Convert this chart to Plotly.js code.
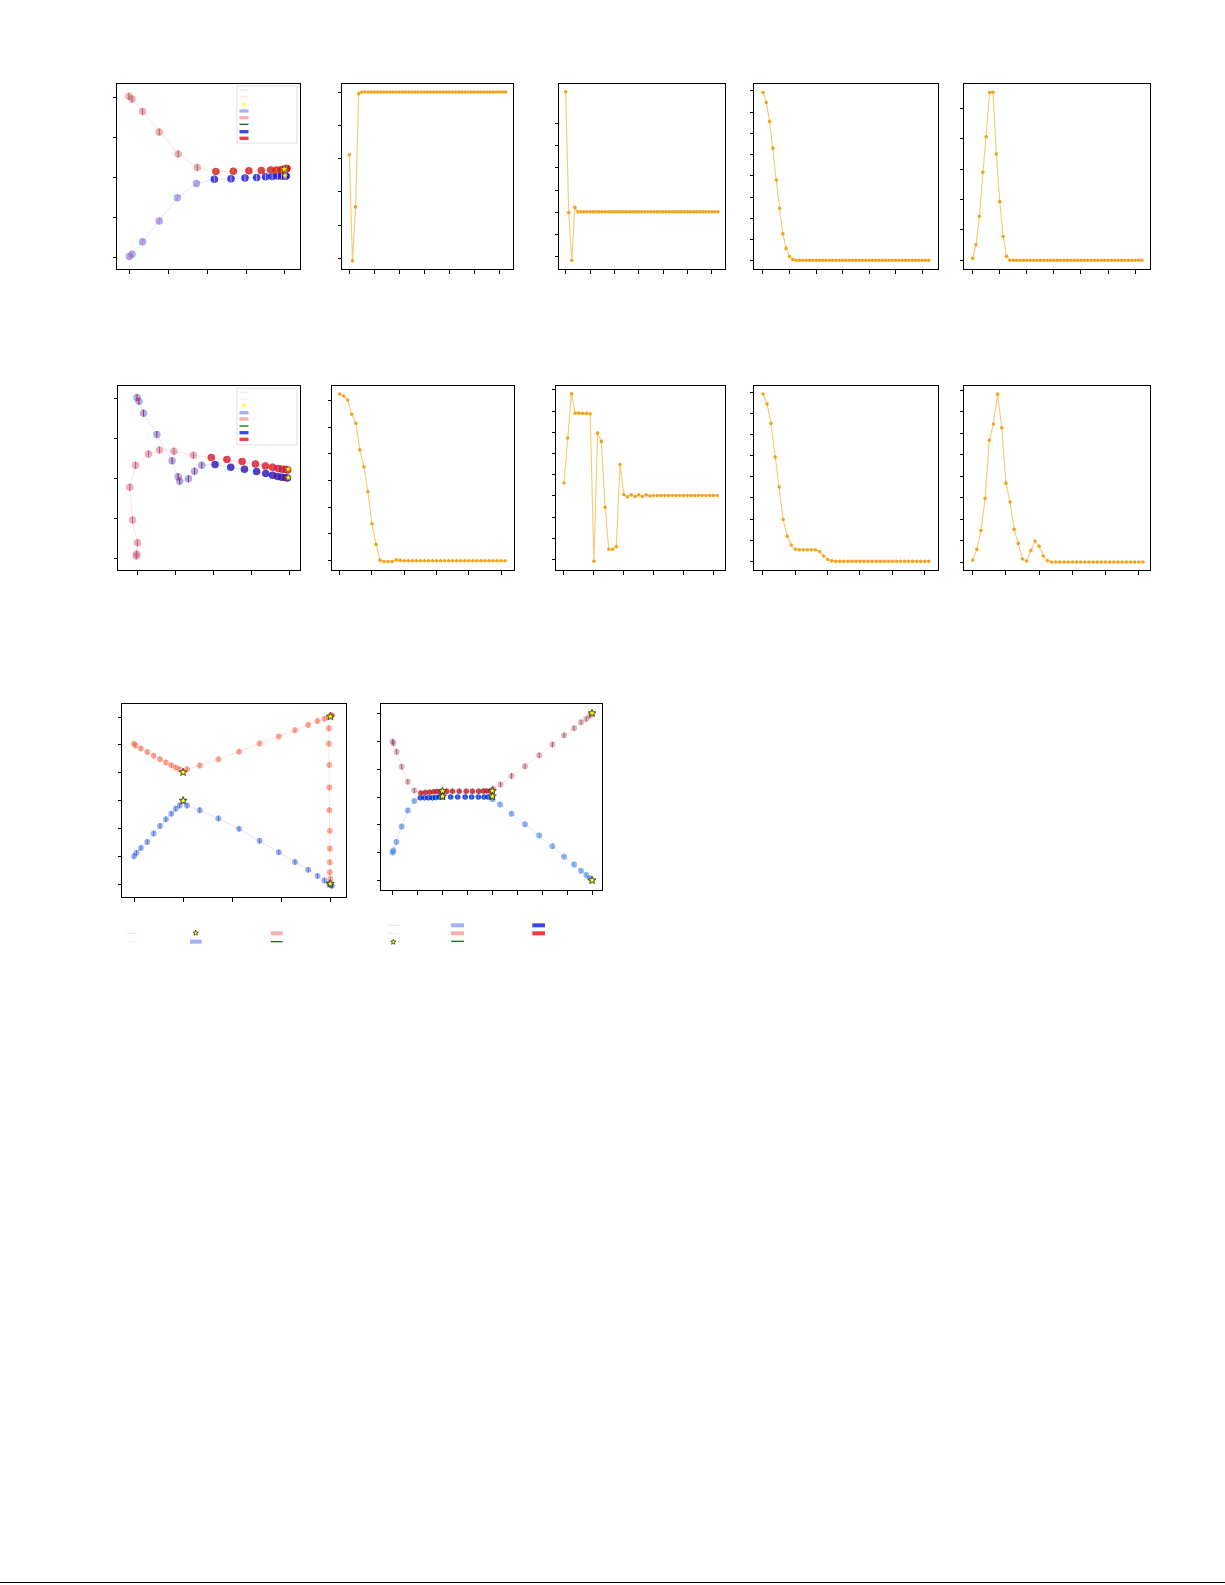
<!DOCTYPE html>
<html><head><meta charset="utf-8">
<script src="https://cdn.plot.ly/plotly-3.0.1.min.js"></script>
<style>body{margin:0;background:#fff}#chart{width:1225px;height:1585px}</style>
</head><body><div id="chart"></div>
<script>
// ---------- trajectory panel A (row 1, col 1) ----------
const tA_blueLightX = [-0.01,0.06,0.33,0.76,1.23,1.72];
const tA_blueLightY = [0.02,0.08,0.39,0.91,1.49,1.84];
const tA_blueDarkX  = [2.18,2.61,2.97,3.27,3.5,3.67,3.81,3.91,3.98,4.02,4.03];
const tA_blueDarkY  = [1.95,1.96,1.98,1.99,2.01,2.02,2.03,2.03,2.03,2.03,2.03];
const tA_redLightX  = [-0.02,0.06,0.33,0.76,1.25,1.74];
const tA_redLightY  = [4.02,3.95,3.64,3.13,2.58,2.24];
const tA_redDarkX   = [2.22,2.67,3.07,3.39,3.63,3.78,3.91,3.98,4.03,4.04,4.05];
const tA_redDarkY   = [2.14,2.15,2.16,2.17,2.18,2.18,2.19,2.2,2.21,2.22,2.22];
const tA_starX = [4.0,3.98];
const tA_starY = [2.04,2.2];

// ---------- trajectory panel B (row 2, col 1) ----------
const tB_blueLightX = [0,0.05,0.17,0.52,0.92,1.08,1.12,1.35,1.51,1.7];
const tB_blueLightY = [4.02,3.93,3.63,3.1,2.44,2.04,1.93,1.99,2.18,2.33];
const tB_blueDarkX  = [2.05,2.46,2.82,3.14,3.38,3.56,3.69,3.8,3.89,3.95];
const tB_blueDarkY  = [2.35,2.28,2.23,2.17,2.12,2.08,2.05,2.03,2.02,2.01];
const tB_redLightX  = [-0.02,-0.01,0.01,-0.12,-0.19,-0.04,0.3,0.59,0.97,1.48];
const tB_redLightY  = [0.06,0.11,0.39,0.96,1.78,2.33,2.61,2.71,2.68,2.58];
const tB_redDarkX   = [1.95,2.36,2.76,3.11,3.37,3.56,3.71,3.81,3.89,3.96];
const tB_redDarkY   = [2.52,2.47,2.42,2.36,2.31,2.28,2.25,2.23,2.23,2.21];
const tB_starX = [3.97,3.97];
const tB_starY = [2.23,2.02];

// ---------- trajectory panel C (row 3, col 1) ----------
const tC_blueX = [0,0.05,0.14,0.27,0.4,0.53,0.65,0.76,0.85,0.93,1.0,1.08,1.34,1.72,2.14,2.56,2.95,3.28,3.55,3.74,3.88,3.97,4.0,4.02,4.03];
const tC_blueY = [1.01,1.13,1.3,1.52,1.82,2.09,2.33,2.53,2.71,2.83,3.0,2.83,2.66,2.36,1.99,1.56,1.15,0.8,0.52,0.3,0.14,0.02,-0.01,-0.03,-0.05];
const tC_redX  = [0,0.03,0.14,0.27,0.4,0.53,0.65,0.76,0.85,0.93,1.0,1.08,1.34,1.72,2.14,2.56,2.95,3.28,3.55,3.74,3.88,3.97,4.01,4.02,4.03,3.97,3.97,3.98,3.98,3.98,3.99,3.99,3.99,3.99,4.0,4.0];
const tC_redY  = [5.04,4.98,4.87,4.75,4.61,4.49,4.37,4.27,4.19,4.13,4.02,4.13,4.26,4.49,4.76,5.05,5.3,5.53,5.72,5.86,5.94,6.0,6.05,6.06,6.06,5.6,5.04,4.28,3.47,2.66,1.92,1.28,0.79,0.43,0.19,0.05];
const tC_starX = [1.0,1.0,4.0,4.0];
const tC_starY = [4.02,3.0,6.02,0.02];

// ---------- trajectory panel D (row 3, col 2) ----------
const tD_blueLightX = [0,0.03,0.15,0.36,0.61,0.87];
const tD_blueLightY = [1.0,1.07,1.38,1.94,2.51,2.86];
const tD_blueDarkX  = [1.11,1.28,1.45,1.6,1.73,1.88,2.0,2.33,2.61,2.91,3.17,3.44,3.67,3.84,4.0];
const tD_blueDarkY  = [2.97,2.97,2.97,2.97,2.98,3.0,3.0,3.0,3.0,3.0,3.0,3.0,3.0,3.0,3.0];
const tD_blueLateX  = [4.0,4.31,4.77,5.31,5.88,6.41,6.88,7.28,7.56,7.77,7.91,8.0];
const tD_blueLateY  = [2.92,2.73,2.4,2.02,1.61,1.23,0.85,0.57,0.34,0.19,0.07,0.0];
const tD_redLightX  = [0,0.03,0.16,0.36,0.61,0.87];
const tD_redLightY  = [5.0,4.94,4.63,4.09,3.55,3.23];
const tD_redDarkX   = [1.13,1.31,1.48,1.64,1.77,1.91,2.0,2.17,2.4,2.67,2.95,3.2,3.45,3.64,3.77,3.91,4.0];
const tD_redDarkY   = [3.14,3.16,3.17,3.19,3.2,3.2,3.21,3.21,3.21,3.21,3.21,3.21,3.21,3.22,3.22,3.22,3.22];
const tD_redLateX   = [4.04,4.33,4.77,5.31,5.88,6.41,6.88,7.28,7.56,7.77,7.91,8.0];
const tD_redLateY   = [3.29,3.45,3.76,4.11,4.5,4.89,5.22,5.48,5.69,5.81,5.93,6.01];
const tD_starX = [2,2,4,4,8,8];
const tD_starY = [3.21,3.02,3.22,3.02,6.02,0.0];

// ---------- orange series (row 1: 51 steps, row 2: 42 steps) ----------
const s1 = [3.12,-0.07,1.55,4.96,5.01,5.01,5.01,5.01,5.01,5.01,5.01,5.01,5.01,5.01,5.01,5.01,5.01,5.01,5.01,5.01,5.01,5.01,5.01,5.01,5.01,5.01,5.01,5.01,5.01,5.01,5.01,5.01,5.01,5.01,5.01,5.01,5.01,5.01,5.01,5.01,5.01,5.01,5.01,5.01,5.01,5.01,5.01,5.01,5.01,5.01,5.01];
const s2 = [7.40,1.99,-0.16,2.22,2.02,2.02,2.02,2.02,2.02,2.02,2.02,2.02,2.02,2.02,2.02,2.02,2.02,2.02,2.02,2.02,2.02,2.02,2.02,2.02,2.02,2.02,2.02,2.02,2.02,2.02,2.02,2.02,2.02,2.02,2.02,2.02,2.02,2.02,2.02,2.02,2.02,2.02,2.02,2.02,2.02,2.02,2.02,2.02,2.02,2.02,2.02];
const s3 = [7.92,7.45,6.56,5.3,3.8,2.47,1.27,0.58,0.2,0.06,0.02,0.02,0.02,0.02,0.02,0.02,0.02,0.02,0.02,0.02,0.02,0.02,0.02,0.02,0.02,0.02,0.02,0.02,0.02,0.02,0.02,0.02,0.02,0.02,0.02,0.02,0.02,0.02,0.02,0.02,0.02,0.02,0.02,0.02,0.02,0.02,0.02,0.02,0.02,0.02,0.02];
const s4 = [0.06,0.51,1.45,2.9,4.07,5.53,5.54,3.5,1.93,0.78,0.13,0,0,0,0,0,0,0,0,0,0,0,0,0,0,0,0,0,0,0,0,0,0,0,0,0,0,0,0,0,0,0,0,0,0,0,0,0,0,0,0];
const s5 = [6.25,6.17,6.02,5.49,5.15,4.15,3.52,2.58,1.38,0.6,0.01,-0.04,-0.04,-0.04,0.02,0.0,-0.01,-0.01,-0.01,-0.01,-0.01,-0.01,-0.01,-0.01,-0.01,-0.01,-0.01,-0.01,-0.01,-0.01,-0.01,-0.01,-0.01,-0.01,-0.01,-0.01,-0.01,-0.01,-0.01,-0.01,-0.01,-0.01];
const s6 = [3.61,5.73,7.81,6.9,6.9,6.89,6.89,6.87,-0.08,5.96,5.57,2.47,0.49,0.49,0.61,4.48,3.07,2.96,3.05,2.97,3.05,2.97,3.05,3.0,3.02,3.02,3.02,3.02,3.02,3.02,3.02,3.02,3.02,3.02,3.02,3.02,3.02,3.02,3.02,3.02,3.02,3.02];
const s7 = [7.92,7.45,6.53,4.94,3.52,1.98,1.19,0.77,0.57,0.55,0.55,0.55,0.55,0.55,0.46,0.25,0.09,0.02,0,0,0,0,0,0,0,0,0,0,0,0,0,0,0,0,0,0,0,0,0,0,0,0];
const s8 = [0.09,0.59,1.47,2.96,5.67,6.42,7.81,6.25,3.67,2.79,1.52,0.87,0.14,0.05,0.54,0.98,0.73,0.28,0.06,0,0,0,0,0,0,0,0,0,0,0,0,0,0,0,0,0,0,0,0,0,0,0];

// tick positions
const ticks0to4 = [0,1,2,3,4];
const ticks0to5 = [0,1,2,3,4,5];
const ticks0to6 = [0,1,2,3,4,5,6];
const ticks0to8 = [0,1,2,3,4,5,6,7,8];
const stepTicks51 = [0,8,16,24,32,40,48];
const stepTicks42 = [0,8,16,24,32,40];

// ---------- layout helpers ----------
const W = 1225, H = 1585;
const PX = v => v / W;
const PY = v => 1 - v / H;

const panels = [
  {box:[117,84,300,269],  xr:[-0.327,4.387], yr:[-0.29,4.325], xt:ticks0to4, yt:ticks0to4},
  {box:[342,84,513,269],  xr:[-2.35,52.4],   yr:[-0.32,5.25],  xt:stepTicks51, yt:ticks0to5},
  {box:[559,84,725,269],  xr:[-2.19,52.3],   yr:[-0.54,7.75],  xt:stepTicks51, yt:ticks0to6},
  {box:[754,84,938,269],  xr:[-2.71,52.8],   yr:[-0.39,8.32],  xt:stepTicks51, yt:ticks0to8},
  {box:[964,84,1150,269], xr:[-2.56,52.4],   yr:[-0.29,5.81],  xt:stepTicks51, yt:ticks0to5},
  {box:[118,386,300,570], xr:[-0.5,4.28],    yr:[-0.29,4.31],  xt:ticks0to4, yt:ticks0to4},
  {box:[332,386,514,570], xr:[-1.9,43.2],    yr:[-0.36,6.55],  xt:stepTicks42, yt:ticks0to6},
  {box:[556,386,725,570], xr:[-2.14,43.1],   yr:[-0.49,8.18],  xt:stepTicks42, yt:ticks0to8},
  {box:[754,386,938,570], xr:[-2.22,43.3],   yr:[-0.41,8.3],   xt:stepTicks42, yt:ticks0to8},
  {box:[964,386,1150,570],xr:[-2.09,42.7],   yr:[-0.37,8.19],  xt:stepTicks42, yt:ticks0to8},
  {box:[122,704,346,897], xr:[-0.245,4.32],  yr:[-0.456,6.47], xt:ticks0to4, yt:ticks0to6},
  {box:[381,704,602,890], xr:[-0.467,8.4],   yr:[-0.35,6.35],  xt:ticks0to8, yt:ticks0to6}
];

const layout = {
  width: W, height: H, margin:{l:0,r:0,t:0,b:0},
  paper_bgcolor:'#fff', plot_bgcolor:'rgba(0,0,0,0)', showlegend:false,
  shapes: [], font:{family:'DejaVu Sans', size:10}
};
const axisBase = {showgrid:false, zeroline:false, showline:true, mirror:true, linecolor:'#000', linewidth:1,
  ticks:'outside', ticklen:3.5, tickwidth:1, tickcolor:'#000', showticklabels:false, tickmode:'array', fixedrange:true};
panels.forEach((p,i) => {
  const n = i + 1;
  const xa = 'xaxis' + (n===1?'':n), ya = 'yaxis' + (n===1?'':n);
  layout[xa] = Object.assign({}, axisBase, {domain:[PX(p.box[0]), PX(p.box[2])], range:p.xr, tickvals:p.xt, anchor:'y'+(n===1?'':n)});
  layout[ya] = Object.assign({}, axisBase, {domain:[PY(p.box[3]), PY(p.box[1])], range:p.yr, tickvals:p.yt, anchor:'x'+(n===1?'':n)});
});
const ax = n => ({xaxis:'x'+(n===1?'':n), yaxis:'y'+(n===1?'':n)});

// ---------- colours ----------
const C = {
  lavLine:'rgba(60,60,255,0.14)', pinkLine:'rgba(255,60,60,0.14)',
  blueLight:'rgba(30,60,225,0.4)', redLight:'rgba(235,55,55,0.4)',
  blueDark:'rgba(10,30,225,0.82)', redDark:'rgba(235,10,10,0.8)',
  green:'#006400', star:'#ffff00', orange:'rgba(240,160,20,0.95)', orangeLine:'rgba(245,170,40,0.65)'
};

const traces = [];
function conn(n, xs, ys, color){ traces.push(Object.assign({type:'scatter', mode:'lines', x:xs, y:ys, line:{color:color, width:1}, hoverinfo:'skip'}, ax(n))); }
function dots(n, xs, ys, color, size){ traces.push(Object.assign({type:'scatter', mode:'markers', x:xs, y:ys, marker:{color:color, size:size, line:{width:0}}, hoverinfo:'skip'}, ax(n))); }
function grads(n, xs, ys, size, w){ traces.push(Object.assign({type:'scatter', mode:'markers', x:xs, y:ys, marker:{symbol:'line-ns-open', size:size, line:{color:C.green, width:w}}, hoverinfo:'skip'}, ax(n))); }
function stars(n, xs, ys, size, lw){ traces.push(Object.assign({type:'scatter', mode:'markers', x:xs, y:ys, marker:{symbol:'star', color:C.star, size:size, line:{color:'#222', width:lw}}, hoverinfo:'skip'}, ax(n))); }
function orange(n, ys){ traces.push(Object.assign({type:'scatter', mode:'lines+markers', x:ys.map((_,i)=>i), y:ys, line:{color:C.orangeLine, width:1.1}, marker:{color:C.orange, size:3.6}, hoverinfo:'skip'}, ax(n))); }

// panel 1
conn(1, tA_blueLightX.concat(tA_blueDarkX), tA_blueLightY.concat(tA_blueDarkY), C.lavLine);
conn(1, tA_redLightX.concat(tA_redDarkX), tA_redLightY.concat(tA_redDarkY), C.pinkLine);
dots(1, tA_blueLightX, tA_blueLightY, C.blueLight, 7.5);
dots(1, tA_redLightX, tA_redLightY, C.redLight, 7.5);
dots(1, tA_blueDarkX, tA_blueDarkY, C.blueDark, 7.5);
dots(1, tA_redDarkX, tA_redDarkY, C.redDark, 7.5);
grads(1, tA_blueLightX.concat(tA_blueDarkX), tA_blueLightY.concat(tA_blueDarkY), 5, 1.1);
grads(1, tA_redLightX.concat(tA_redDarkX), tA_redLightY.concat(tA_redDarkY), 5, 1.1);
stars(1, tA_starX, tA_starY, 5, 0.2);

// orange panels
orange(2, s1); orange(3, s2); orange(4, s3); orange(5, s4);
orange(7, s5); orange(8, s6); orange(9, s7); orange(10, s8);

// panel 6
conn(6, tB_blueLightX.concat(tB_blueDarkX), tB_blueLightY.concat(tB_blueDarkY), C.lavLine);
conn(6, tB_redLightX.concat(tB_redDarkX), tB_redLightY.concat(tB_redDarkY), C.pinkLine);
dots(6, tB_blueLightX, tB_blueLightY, C.blueLight, 7.5);
dots(6, tB_redLightX, tB_redLightY, C.redLight, 7.5);
dots(6, tB_blueDarkX, tB_blueDarkY, C.blueDark, 7.5);
dots(6, tB_redDarkX, tB_redDarkY, C.redDark, 7.5);
grads(6, tB_blueLightX.concat(tB_blueDarkX), tB_blueLightY.concat(tB_blueDarkY), 5, 1.1);
grads(6, tB_redLightX.concat(tB_redDarkX), tB_redLightY.concat(tB_redDarkY), 5, 1.1);
stars(6, tB_starX, tB_starY, 5, 0.2);

// panel 11
conn(11, tC_blueX, tC_blueY, C.lavLine);
conn(11, tC_redX, tC_redY, C.pinkLine);
dots(11, tC_blueX, tC_blueY, C.blueLight, 6);
dots(11, tC_redX, tC_redY, C.redLight, 6);
grads(11, tC_blueX, tC_blueY, 4, 0.8);
grads(11, tC_redX, tC_redY, 4, 0.8);
stars(11, tC_starX, tC_starY, 6, 0.7);

// panel 12
conn(12, tD_blueLightX.concat(tD_blueDarkX, tD_blueLateX), tD_blueLightY.concat(tD_blueDarkY, tD_blueLateY), C.lavLine);
conn(12, tD_redLightX.concat(tD_redDarkX, tD_redLateX), tD_redLightY.concat(tD_redDarkY, tD_redLateY), C.pinkLine);
dots(12, tD_blueLightX.concat(tD_blueLateX), tD_blueLightY.concat(tD_blueLateY), C.blueLight, 6);
dots(12, tD_redLightX.concat(tD_redLateX), tD_redLightY.concat(tD_redLateY), C.redLight, 6);
dots(12, tD_blueDarkX, tD_blueDarkY, C.blueDark, 5.5);
dots(12, tD_redDarkX, tD_redDarkY, C.redDark, 5.5);
grads(12, tD_blueLightX.concat(tD_blueDarkX, tD_blueLateX), tD_blueLightY.concat(tD_blueDarkY, tD_blueLateY), 4, 0.8);
grads(12, tD_redLightX.concat(tD_redDarkX, tD_redLateX), tD_redLightY.concat(tD_redDarkY, tD_redLateY), 4, 0.8);
stars(12, tD_starX, tD_starY, 6, 0.7);

// ---------- legend glyphs (shapes in page pixels) ----------
const S = layout.shapes;
function lgLine(x0, x1, y, color, w){ S.push({type:'line', xref:'paper', yref:'paper', x0:PX(x0), x1:PX(x1), y0:PY(y), y1:PY(y), line:{color:color, width:w||1}}); }
function lgRect(x0, x1, y, h, color){ S.push({type:'rect', xref:'paper', yref:'paper', x0:PX(x0), x1:PX(x1), y0:PY(y-h/2), y1:PY(y+h/2), fillcolor:color, line:{width:0}}); }
function lgStar(cx, cy, r, lw){
  let d = '';
  for (let k=0;k<10;k++){
    const ang = -Math.PI/2 + k*Math.PI/5, rr = (k%2===0)? r : r*0.42;
    d += (k===0?'M':'L') + PX(cx + rr*Math.cos(ang)).toFixed(6) + ',' + PY(cy + rr*Math.sin(ang)).toFixed(6) + ' ';
  }
  S.push({type:'path', xref:'paper', yref:'paper', path:d+'Z', fillcolor:C.star, line:{color:'#222', width:lw}});
}
function lgFrame(x0, y0, x1, y1){ S.push({type:'rect', xref:'paper', yref:'paper', x0:PX(x0), x1:PX(x1), y0:PY(y1), y1:PY(y0), fillcolor:'rgba(255,255,255,0.8)', line:{color:'rgba(0,0,0,0.12)', width:1}}); }

function insideLegend(top, ys){
  lgFrame(237, top, 297, top+57);
  const a=239.5, b=248.5;
  lgLine(a,b,ys[0],C.lavLine); lgLine(a,b,ys[1],C.pinkLine);
  lgStar((a+b)/2, ys[2], 2.6, 0);
  lgRect(a,b,ys[3],3.3,C.blueLight); lgRect(a,b,ys[4],3.3,C.redLight);
  lgLine(a,b,ys[5],C.green,1.2);
  lgRect(a,b,ys[6],3.3,C.blueDark); lgRect(a,b,ys[7],3.3,C.redDark);
}
insideLegend(86, [90,96.7,104.3,111,117.7,124.3,131.7,138.3]);
insideLegend(388, [392.3,399,405.7,412.7,419,426,432.7,439.3]);

// legend under panel 11
lgLine(126.7,136.7,933.3,C.lavLine); lgLine(126.7,136.7,941.7,C.pinkLine);
lgStar(195.7,933,2.8,0.7); lgRect(190,201.7,941.7,4,C.blueLight);
lgRect(270.7,282.7,933.3,4,C.redLight); lgLine(270.7,282.7,941.7,C.green,1.2);
// legend under panel 12
lgLine(388.3,400,925.3,C.lavLine); lgLine(388.3,400,933.3,C.pinkLine); lgStar(393.3,942,2.8,0.7);
lgRect(451,464,925.3,4,C.blueLight); lgRect(451,464,933.3,4,C.redLight); lgLine(451,464,941.3,C.green,1.2);
lgRect(532.3,545,925.3,4,C.blueDark); lgRect(532.3,545,933.3,4,C.redDark);

// page bottom rule
S.push({type:'line', xref:'paper', yref:'paper', x0:0, x1:1, y0:PY(1582.5), y1:PY(1582.5), line:{color:'#000', width:1}});

Plotly.newPlot('chart', traces, layout, {staticPlot:true, displayModeBar:false});
</script></body></html>
